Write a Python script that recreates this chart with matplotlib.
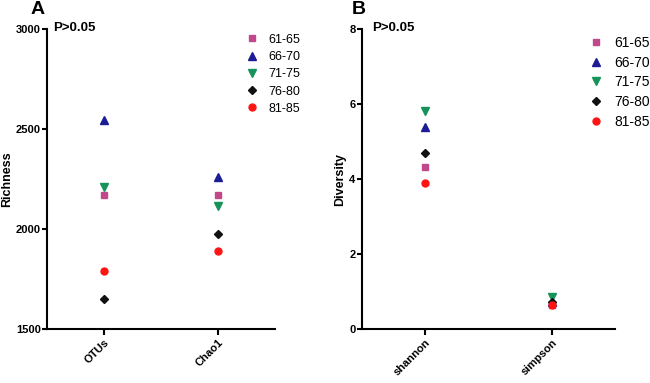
import matplotlib
matplotlib.use("Agg")
import matplotlib.pyplot as plt

plt.rcParams['font.family'] = ['Liberation Sans', 'DejaVu Sans']

groups = ["61-65", "66-70", "71-75", "76-80", "81-85"]
markers = ["s", "^", "v", "D", "o"]
colors = ["#c2488c", "#1c1c94", "#16935a", "#111111", "#ff1414"]
sizes = [4.6, 5.2, 5.2, 4.4, 5.0]

richness_cats = ["OTUs", "Chao1"]
richness = {
    "61-65": [2172, 2172],
    "66-70": [2544, 2262],
    "71-75": [2210, 2113],
    "76-80": [1650, 1973],
    "81-85": [1788, 1892],
}

diversity_cats = ["shannon", "simpson"]
diversity = {
    "61-65": [4.31, 0.63],
    "66-70": [5.38, 0.73],
    "71-75": [5.82, 0.86],
    "76-80": [4.69, 0.72],
    "81-85": [3.89, 0.63],
}

fig = plt.figure(figsize=(6.5, 3.83), dpi=100)
axA = fig.add_axes([0.0723, 0.141, 0.351, 0.783])
axB = fig.add_axes([0.5565, 0.141, 0.3895, 0.783])


def panel(ax, cats, data, ylim, yticks, ylabel, ptext_x, leg_anchor, leg_fs, leg_space, tpad):
    for g, m, c, s in zip(groups, markers, colors, sizes):
        ax.plot(range(len(cats)), data[g], linestyle="none", marker=m, color=c,
                markersize=s, label=g, clip_on=False)
    ax.set_xlim(-0.5, 1.5)
    ax.set_ylim(*ylim)
    ax.set_yticks(yticks)
    ax.set_xticks(range(len(cats)))
    ax.set_xticklabels(cats, rotation=45, ha="right", rotation_mode="anchor",
                       fontweight="bold", fontsize=8)
    for lab in ax.get_yticklabels():
        lab.set_fontweight("bold")
        lab.set_fontsize(8)
    ax.set_ylabel(ylabel, fontweight="bold", fontsize=9, labelpad=2)
    for sp in ["top", "right"]:
        ax.spines[sp].set_visible(False)
    for sp in ["left", "bottom"]:
        ax.spines[sp].set_linewidth(1.5)
    ax.tick_params(axis="y", width=1.5, length=3.5, pad=1)
    ax.tick_params(axis="x", width=1.5, length=4, pad=2)
    ax.text(ptext_x, 1.005, "P>0.05", transform=ax.transAxes, fontweight="bold",
            fontsize=9.5, va="center", ha="left")
    ax.legend(frameon=False, loc="upper left", bbox_to_anchor=leg_anchor,
              bbox_transform=fig.transFigure, fontsize=leg_fs, handletextpad=tpad,
              labelspacing=leg_space, borderpad=0, handlelength=1.2)


panel(axA, richness_cats, richness, (1500, 3000), [1500, 2000, 2500, 3000],
      "Richness", 0.026, (0.366, 0.928), 9, 0.42, 0.75)
panel(axB, diversity_cats, diversity, (0, 8), [0, 2, 4, 6, 8],
      "Diversity", 0.043, (0.893, 0.925), 10, 0.42, 0.75)

fig.text(38 / 650, 1 - 9 / 383, "A", fontweight="bold", fontsize=14, ha="center", va="center")
fig.text(359 / 650, 1 - 9 / 383, "B", fontweight="bold", fontsize=14, ha="center", va="center")

fig.savefig("out.png", dpi=100)
